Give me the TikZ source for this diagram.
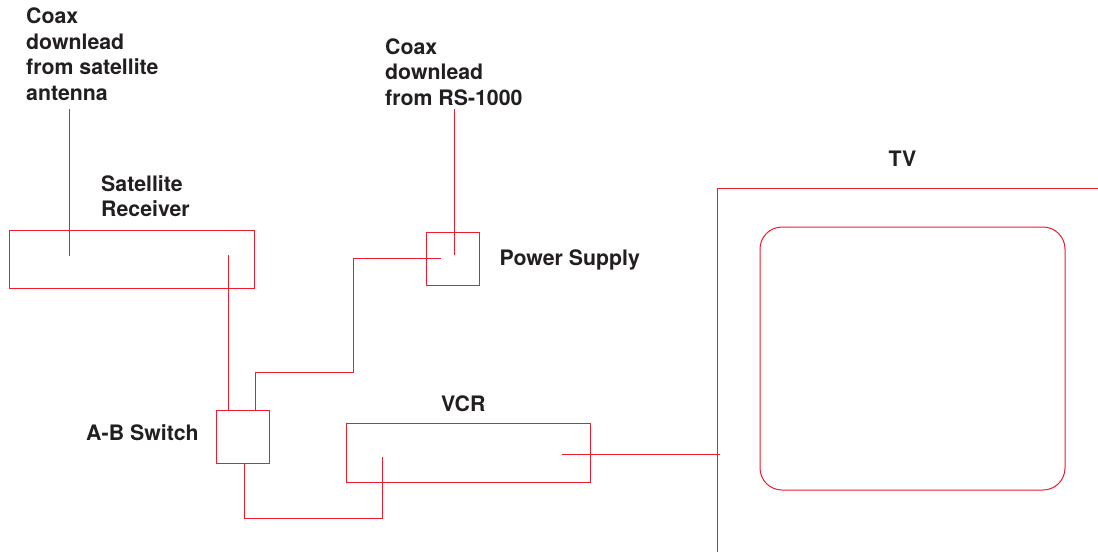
\documentclass[tikz,border=0pt]{standalone}
\usepackage{fontspec}
\setmainfont{TeX Gyre Heros}
\definecolor{wire}{RGB}{237,28,46}
\definecolor{txt}{RGB}{35,31,32}
\tikzset{
 x=1pt,y=-1pt,
 wirel/.style={draw=wire,line width=1pt},
 boxn/.style={wirel,rectangle,inner sep=0pt,outer sep=0pt,anchor=north west},
 lab/.style={text=txt,font=\fontsize{21.3}{25.6}\selectfont\bfseries,align=left,inner sep=0pt},
 labm/.style={lab,anchor=north west},
 labs/.style={lab,anchor=base west},
}
\begin{document}
\begin{tikzpicture}
\useasboundingbox (0,0) rectangle (1098,554);
\fill[white] (0,0) rectangle (1098,554);
\node[boxn,minimum width=245.3pt,minimum height=58.7pt] (sat) at (9.2,230) {};
\node[boxn,minimum width=52.6pt,minimum height=53pt] (ps) at (426.7,232.7) {};
\node[boxn,minimum width=52.6pt,minimum height=52.6pt] (ab) at (216.7,410.7) {};
\node[boxn,minimum width=244.3pt,minimum height=59pt] (vcr) at (346,423.7) {};
\node[boxn,rounded corners=22pt,minimum width=305pt,minimum height=263pt] (screen) at (760,227) {};
\coordinate (a1) at (69.3,109);
\coordinate (a2) at (69.3,256);
\coordinate (r1) at (454.7,109);
\coordinate (r2) at (454.7,255);
\coordinate (s1) at (228.6,255);
\coordinate (p1) at (440.7,258.7);
\coordinate (p2) at (353,258.7);
\coordinate (p3) at (353,372.7);
\coordinate (p4) at (255,372.7);
\coordinate (d1) at (244.3,518);
\coordinate (v0) at (382,518);
\coordinate (v1) at (382,456.7);
\coordinate (v2) at (562,454.7);
\coordinate (t1) at (1098,188);
\coordinate (t2) at (717.8,188);
\coordinate (t3) at (717.8,552);
\draw[wirel] (a1)--(a2);
\draw[wirel] (r1)--(r2);
\draw[wirel] (s1)--(s1|-ab.north);
\draw[wirel,line join=miter] (p1)--(p2)--(p3)--(p4)--(p4|-ab.north);
\draw[wirel] (ab.south-|d1)--(d1)--(v0)--(v1);
\draw[wirel] (v2)--(719.5,454.7);
\draw[wirel] (t1)--(t2)--(t3);
\node[labm] (l1) at (26,7.7) {Coax\\downlead\\from satellite\\antenna};
\node[labm] (l2) at (385,38.3) {Coax\\downlead\\from RS-1000};
\node[labm] (l3) at (101,175.3) {Satellite\\Receiver};
\node[labs] (l4) at (499.5,265) {Power Supply};
\node[labs] (l5) at (86,440.7) {A-B Switch};
\node[labs] (l6) at (441,411) {VCR};
\node[labs] (l7) at (888.5,166) {TV};
\end{tikzpicture}
\end{document}
